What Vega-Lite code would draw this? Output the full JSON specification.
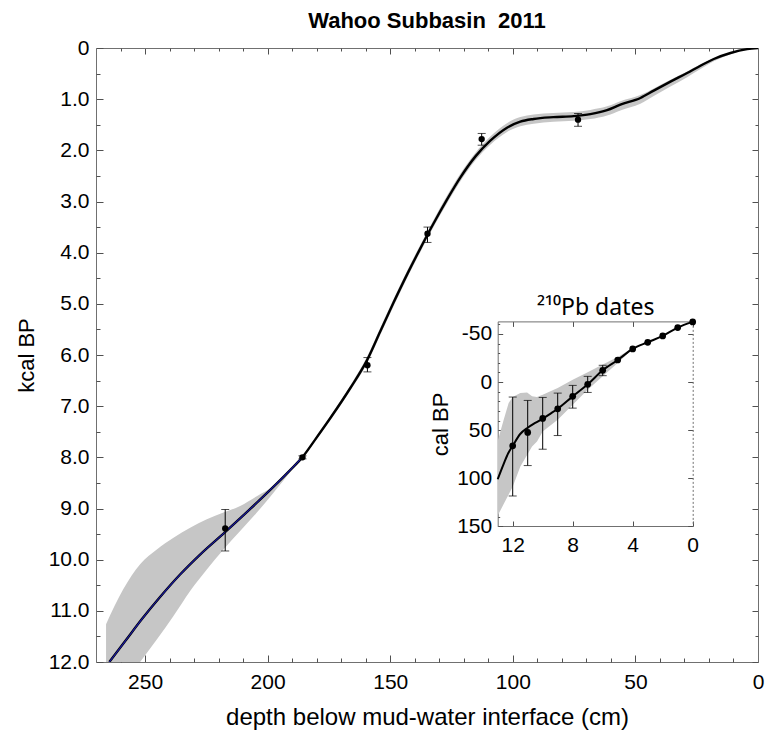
{
  "$schema": "https://vega.github.io/schema/vega-lite/v6.json",
  "autosize": "none",
  "padding": {"left": 96, "top": 48, "right": 11, "bottom": 78},
  "width": 662,
  "height": 614,
  "title": {"text": "Wahoo Subbasin\u00a0 2011", "font": "Liberation Sans", "fontSize": 22, "fontWeight": "bold", "anchor": "middle", "frame": "group", "offset": -13, "baseline": "alphabetic", "color": "black"},
  "config": {
    "view": {"stroke": null},
    "axis": {"labelFont": "Liberation Sans", "titleFont": "Liberation Sans", "labelFontSize": 21, "titleFontSize": 22, "titleFontWeight": "normal", "labelColor": "black", "titleColor": "black", "domainColor": "#707070", "tickColor": "#505050", "grid": false, "labelFlush": false, "labelOverlap": false, "minExtent": 0}
  },
  "datasets": {
    "mainBand": [
      {"d": 265.9, "lo": 11.26, "hi": 12.95}, {"d": 258.9, "lo": 10.58, "hi": 12.47}, {"d": 252.0, "lo": 10.09, "hi": 12.0},
      {"d": 245.2, "lo": 9.8, "hi": 11.56}, {"d": 238.4, "lo": 9.57, "hi": 11.1}, {"d": 231.6, "lo": 9.375, "hi": 10.61},
      {"d": 224.8, "lo": 9.21, "hi": 10.19}, {"d": 218.0, "lo": 9.08, "hi": 9.8}, {"d": 211.2, "lo": 8.95, "hi": 9.44},
      {"d": 204.4, "lo": 8.76, "hi": 9.08}, {"d": 197.6, "lo": 8.56, "hi": 8.69}, {"d": 190.8, "lo": 8.23, "hi": 8.29},
      {"d": 185.8, "lo": 7.98, "hi": 8.02}, {"d": 180.61, "lo": 7.62, "hi": 7.68}, {"d": 174.49, "lo": 7.2, "hi": 7.28},
      {"d": 166.33, "lo": 6.6, "hi": 6.7}, {"d": 159.39, "lo": 6.03, "hi": 6.16}, {"d": 154.08, "lo": 5.47, "hi": 5.61},
      {"d": 148.78, "lo": 4.92, "hi": 5.06}, {"d": 143.06, "lo": 4.35, "hi": 4.49}, {"d": 137.76, "lo": 3.85, "hi": 3.99},
      {"d": 132.45, "lo": 3.37, "hi": 3.51}, {"d": 126.86, "lo": 2.89, "hi": 3.04},
      {"d": 121.43, "lo": 2.46, "hi": 2.61}, {"d": 115.31, "lo": 2.05, "hi": 2.2}, {"d": 109.18, "lo": 1.73, "hi": 1.89},
      {"d": 102.37, "lo": 1.47, "hi": 1.64}, {"d": 96.94, "lo": 1.35, "hi": 1.53}, {"d": 91.51, "lo": 1.3, "hi": 1.48},
      {"d": 83.47, "lo": 1.27, "hi": 1.44}, {"d": 75.18, "lo": 1.25, "hi": 1.42}, {"d": 68.37, "lo": 1.21, "hi": 1.39},
      {"d": 61.55, "lo": 1.14, "hi": 1.32}, {"d": 56.12, "lo": 1.04, "hi": 1.22}, {"d": 47.96, "lo": 0.92, "hi": 1.09},
      {"d": 42.53, "lo": 0.79, "hi": 0.94}, {"d": 35.71, "lo": 0.62, "hi": 0.75}, {"d": 28.9, "lo": 0.46, "hi": 0.57},
      {"d": 23.47, "lo": 0.32, "hi": 0.41}, {"d": 18.04, "lo": 0.2, "hi": 0.26}, {"d": 11.22, "lo": 0.09, "hi": 0.12},
      {"d": 4.41, "lo": 0.02, "hi": 0.03}, {"d": 0, "lo": 0, "hi": 0}
    ],
    "mainLine": [
      {"d": 264.57, "a": 12.0}, {"d": 258.16, "a": 11.596}, {"d": 251.35, "a": 11.166}, {"d": 243.88, "a": 10.73},
      {"d": 235.71, "a": 10.29}, {"d": 227.55, "a": 9.9}, {"d": 217.35, "a": 9.461}, {"d": 204.41, "a": 8.887},
      {"d": 190.82, "a": 8.25}, {"d": 185.8, "a": 7.996}, {"d": 180.61, "a": 7.653}, {"d": 174.49, "a": 7.237},
      {"d": 166.33, "a": 6.65}, {"d": 159.39, "a": 6.095}, {"d": 154.08, "a": 5.54},
      {"d": 148.78, "a": 4.99}, {"d": 143.06, "a": 4.42}, {"d": 137.76, "a": 3.92}, {"d": 132.45, "a": 3.44},
      {"d": 126.86, "a": 2.963}, {"d": 121.43, "a": 2.533}, {"d": 115.31, "a": 2.123}, {"d": 109.18, "a": 1.811},
      {"d": 102.37, "a": 1.557}, {"d": 96.94, "a": 1.439}, {"d": 91.51, "a": 1.387}, {"d": 83.47, "a": 1.352},
      {"d": 75.18, "a": 1.332}, {"d": 68.37, "a": 1.293}, {"d": 61.55, "a": 1.215}, {"d": 56.12, "a": 1.107},
      {"d": 47.96, "a": 0.977}, {"d": 42.53, "a": 0.834}, {"d": 35.71, "a": 0.658}, {"d": 28.9, "a": 0.488},
      {"d": 23.47, "a": 0.346}, {"d": 18.04, "a": 0.215}, {"d": 11.22, "a": 0.098}, {"d": 4.41, "a": 0.023}, {"d": 0, "a": 0}
    ],
    "mainPts": [
      {"d": 73.4, "a": 1.4, "lo": 1.28, "hi": 1.53},
      {"d": 112.7, "a": 1.78, "lo": 1.67, "hi": 1.9},
      {"d": 134.8, "a": 3.63, "lo": 3.5, "hi": 3.8},
      {"d": 159.3, "a": 6.2, "lo": 6.05, "hi": 6.33},
      {"d": 185.8, "a": 8.0, "lo": 7.97, "hi": 8.03},
      {"d": 217.3, "a": 9.39, "lo": 9.02, "hi": 9.83}
    ],
    "pbBand": [
      {"ix": 12.98, "lo": 60.1, "hi": 138.2}, {"ix": 12.6, "lo": 39.2, "hi": 126.8}, {"ix": 12.27, "lo": 21.9, "hi": 116.8},
      {"ix": 12.0, "lo": 15.6, "hi": 108.7}, {"ix": 11.49, "lo": 11.5, "hi": 87.8}, {"ix": 11.04, "lo": 10.8, "hi": 75.7},
      {"ix": 10.71, "lo": 14.9, "hi": 67.0}, {"ix": 10.38, "lo": 15.6, "hi": 61.8}, {"ix": 10.0, "lo": 13.2, "hi": 51.4},
      {"ix": 9.0, "lo": 6.25, "hi": 39.2}, {"ix": 8.0, "lo": -2.4, "hi": 23.6}, {"ix": 7.0, "lo": -10.1, "hi": 8.0},
      {"ix": 6.0, "lo": -18.1, "hi": -5.9}, {"ix": 5.0, "lo": -26.0, "hi": -19.8}, {"ix": 4.0, "lo": -35.4, "hi": -34.4}
    ],
    "pbLine": [
      {"ix": 13, "iy": 101}, {"ix": 12.6, "iy": 85}, {"ix": 12.3, "iy": 74}, {"ix": 12, "iy": 66.3},
      {"ix": 11.5, "iy": 54}, {"ix": 11, "iy": 47.5}, {"ix": 10.5, "iy": 42.5}, {"ix": 10, "iy": 38},
      {"ix": 9.5, "iy": 33}, {"ix": 9, "iy": 27.8}, {"ix": 8, "iy": 14.9}, {"ix": 7, "iy": 2.4},
      {"ix": 6, "iy": -12.2}, {"ix": 5, "iy": -22.9}, {"ix": 4, "iy": -34.4}, {"ix": 3, "iy": -41.3},
      {"ix": 2, "iy": -47.9}, {"ix": 1, "iy": -56.6}, {"ix": 0, "iy": -62.5}
    ],
    "pbPts": [
      {"ix": 0, "iy": -62.5, "lo": -62.5, "hi": -62.5}, {"ix": 1, "iy": -56.6, "lo": -56.6, "hi": -56.6},
      {"ix": 2, "iy": -47.9, "lo": -47.9, "hi": -47.9}, {"ix": 3, "iy": -41.3, "lo": -41.3, "hi": -41.3},
      {"ix": 4, "iy": -34.4, "lo": -34.4, "hi": -34.4}, {"ix": 5, "iy": -22.9, "lo": -22.9, "hi": -22.9},
      {"ix": 6, "iy": -12.2, "lo": -17.4, "hi": -6.6}, {"ix": 7, "iy": 2.4, "lo": -5.9, "hi": 10.8},
      {"ix": 8, "iy": 14.9, "lo": 3.5, "hi": 27.1}, {"ix": 9, "iy": 27.8, "lo": 11.5, "hi": 55.6},
      {"ix": 10, "iy": 37.8, "lo": 16.0, "hi": 69.8}, {"ix": 11, "iy": 52.4, "lo": 19.1, "hi": 86.8},
      {"ix": 12, "iy": 66.3, "lo": 15.6, "hi": 118.4}
    ]
  },
  "layer": [
    {
      "layer": [
        {
          "data": {"name": "mainBand"},
          "mark": {"type": "area", "color": "#c6c6c6", "clip": true, "interpolate": "monotone"},
          "encoding": {
            "x": {"field": "d", "type": "quantitative", "scale": {"domain": [0, 270], "reverse": true, "nice": false, "zero": false},
                  "axis": {"orient": "bottom", "values": [0, 50, 100, 150, 200, 250], "tickSize": -7, "labelPadding": 16, "title": "depth below mud-water interface (cm)", "titleFontSize": 24, "titlePadding": 13}},
            "y": {"field": "lo", "type": "quantitative", "scale": {"domain": [0, 12], "reverse": true, "nice": false, "zero": false},
                  "axis": {"orient": "left", "values": [0, 1, 2, 3, 4, 5, 6, 7, 8, 9, 10, 11, 12], "tickSize": -7, "labelPadding": 14, "labelExpr": "datum.value == 0 ? '0' : format(datum.value, '.1f')", "title": "kcal BP", "titlePadding": 10}},
            "y2": {"field": "hi"}
          }
        },
        {
          "data": {"name": "mainLine"},
          "mark": {"type": "line", "color": "black", "strokeWidth": 2.4, "clip": true, "interpolate": "monotone"},
          "encoding": {
            "x": {"field": "d", "type": "quantitative", "scale": {"domain": [0, 270], "reverse": true, "nice": false, "zero": false},
                  "axis": {"orient": "bottom", "values": [10, 20, 30, 40, 60, 70, 80, 90, 110, 120, 130, 140, 160, 170, 180, 190, 210, 220, 230, 240, 260], "tickSize": -4, "labels": false, "domain": false, "title": null}},
            "y": {"field": "a", "type": "quantitative", "scale": {"domain": [0, 12], "reverse": true, "nice": false, "zero": false},
                  "axis": {"orient": "left", "values": [0.5, 1.5, 2.5, 3.5, 4.5, 5.5, 6.5, 7.5, 8.5, 9.5, 10.5, 11.5], "tickSize": -4, "labels": false, "domain": false, "title": null}}
          }
        },
        {
          "data": {"name": "mainLine"},
          "transform": [{"filter": "datum.d >= 185"}],
          "mark": {"type": "line", "color": "#1a1aa8", "strokeWidth": 1.1, "clip": true, "interpolate": "monotone"},
          "encoding": {
            "x": {"field": "d", "type": "quantitative", "scale": {"domain": [0, 270], "reverse": true, "nice": false, "zero": false},
                  "axis": {"orient": "top", "values": [0, 50, 100, 150, 200, 250], "tickSize": -6, "labels": false, "title": null}},
            "y": {"field": "a", "type": "quantitative", "scale": {"domain": [0, 12], "reverse": true, "nice": false, "zero": false},
                  "axis": {"orient": "right", "values": [0, 1, 2, 3, 4, 5, 6, 7, 8, 9, 10, 11, 12], "tickSize": -6, "labels": false, "title": null}}
          }
        },
        {
          "data": {"name": "mainPts"},
          "mark": {"type": "errorbar", "ticks": {"size": 8, "color": "black"}, "rule": {"color": "black", "strokeWidth": 1}},
          "encoding": {
            "x": {"field": "d", "type": "quantitative", "scale": {"domain": [0, 270], "reverse": true, "nice": false, "zero": false}, "axis": null},
            "y": {"field": "lo", "type": "quantitative", "scale": {"domain": [0, 12], "reverse": true, "nice": false, "zero": false}, "axis": null},
            "y2": {"field": "hi"}
          }
        },
        {
          "data": {"name": "mainPts"},
          "mark": {"type": "circle", "color": "black", "opacity": 1, "size": 40},
          "encoding": {
            "x": {"field": "d", "type": "quantitative", "scale": {"domain": [0, 270], "reverse": true, "nice": false, "zero": false},
                  "axis": {"orient": "top", "values": [10, 20, 30, 40, 60, 70, 80, 90, 110, 120, 130, 140, 160, 170, 180, 190, 210, 220, 230, 240, 260], "tickSize": -3, "labels": false, "domain": false, "title": null}},
            "y": {"field": "a", "type": "quantitative", "scale": {"domain": [0, 12], "reverse": true, "nice": false, "zero": false},
                  "axis": {"orient": "right", "values": [0.5, 1.5, 2.5, 3.5, 4.5, 5.5, 6.5, 7.5, 8.5, 9.5, 10.5, 11.5], "tickSize": -3, "labels": false, "domain": false, "title": null}}
          }
        }
      ],
      "resolve": {"axis": {"x": "independent", "y": "independent"}}
    },
    {
      "layer": [
        {
          "data": {"name": "pbBand"},
          "mark": {"type": "area", "color": "#c6c6c6"},
          "encoding": {
            "x": {"field": "ix", "type": "quantitative", "scale": {"domain": [0, 13], "range": [596.7, 401.7], "nice": false, "zero": false},
                  "axis": {"orient": "bottom", "offset": -136, "values": [0, 4, 8, 12], "tickSize": -5, "labelPadding": 13, "title": null}},
            "y": {"field": "lo", "type": "quantitative", "scale": {"domain": [-63, 150], "range": [273.4, 478.4], "nice": false, "zero": false},
                  "axis": {"orient": "left", "offset": -401.7, "values": [-50, 0, 50, 100, 150], "tickSize": -5, "labelPadding": 11, "labelExpr": "datum.value < 0 ? '-' + abs(datum.value) : '' + datum.value", "title": "cal BP", "titlePadding": 4}},
            "y2": {"field": "hi"}
          }
        },
        {
          "data": {"name": "pbLine"},
          "mark": {"type": "line", "color": "black", "strokeWidth": 2, "interpolate": "monotone"},
          "encoding": {
            "x": {"field": "ix", "type": "quantitative", "scale": {"domain": [0, 13], "range": [596.7, 401.7], "nice": false, "zero": false},
                  "axis": {"orient": "top", "offset": -273.4, "values": [0, 4, 8, 12], "tickSize": -5, "labels": false, "title": "²¹⁰Pb dates", "titleFont": "Noto Sans", "titleFontSize": 23, "titlePadding": 1}},
            "y": {"field": "iy", "type": "quantitative", "scale": {"domain": [-63, 150], "range": [273.4, 478.4], "nice": false, "zero": false},
                  "axis": {"orient": "right", "offset": -65.3, "values": [-50, 0, 50, 100, 150], "tickSize": -5, "labels": false, "title": null, "domainDash": [2, 2]}}
          }
        },
        {
          "data": {"name": "pbPts"},
          "transform": [{"filter": "datum.hi > datum.lo"}],
          "mark": {"type": "errorbar", "ticks": {"size": 8, "color": "black"}, "rule": {"color": "black", "strokeWidth": 1}},
          "encoding": {
            "x": {"field": "ix", "type": "quantitative", "scale": {"domain": [0, 13], "range": [596.7, 401.7], "nice": false, "zero": false}, "axis": null},
            "y": {"field": "lo", "type": "quantitative", "scale": {"domain": [-63, 150], "range": [273.4, 478.4], "nice": false, "zero": false}, "axis": null},
            "y2": {"field": "hi"}
          }
        },
        {
          "data": {"name": "pbPts"},
          "mark": {"type": "circle", "color": "black", "opacity": 1, "size": 45},
          "encoding": {
            "x": {"field": "ix", "type": "quantitative", "scale": {"domain": [0, 13], "range": [596.7, 401.7], "nice": false, "zero": false}, "axis": null},
            "y": {"field": "iy", "type": "quantitative", "scale": {"domain": [-63, 150], "range": [273.4, 478.4], "nice": false, "zero": false},
                  "axis": {"orient": "left", "offset": -401.7, "values": [-60, -40, -30, -20, -10, 10, 20, 30, 40, 60, 70, 80, 90, 110, 120, 130, 140], "tickSize": -2, "labels": false, "domain": false, "title": null}}
          }
        }
      ],
      "resolve": {"axis": {"x": "independent", "y": "independent"}}
    }
  ],
  "resolve": {"scale": {"x": "independent", "y": "independent"}, "axis": {"x": "independent", "y": "independent"}}
}
